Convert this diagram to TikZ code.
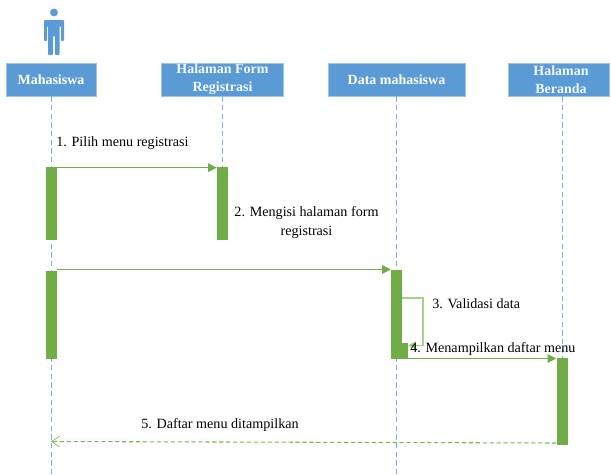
\documentclass[tikz,border=0pt]{standalone}
\usepackage{fontspec}
\setmainfont{Liberation Serif}
\usetikzlibrary{arrows.meta}
\definecolor{hblue}{HTML}{5B9BD5}
\definecolor{hgreen}{HTML}{70AD47}
\definecolor{lgreen}{HTML}{A9D18E}
\tikzset{
  x=0.75pt,y=-0.75pt,
  headbox/.style={fill=hblue,draw=hblue!60!white,line width=0.5pt,minimum height=24.75pt,inner sep=0pt,text=white,font=\fontsize{10.5}{11.5}\selectfont\bfseries,align=center},
  lifeline/.style={draw=hblue!80!white,dashed,dash pattern=on 4pt off 2.5pt,line width=0.7pt},
  actbar/.style={fill=hgreen,draw=none,inner sep=0pt,minimum width=8.25pt,anchor=north},
  msg/.style={draw=hgreen,line width=0.8pt,-{Triangle[length=6.5pt,width=6.5pt,fill=hgreen]}},
  selfmsg/.style={draw=lgreen,line width=0.9pt,-{Triangle[length=6pt,width=6pt,fill=hgreen]}},
  retmsg/.style={draw=hgreen!90!white,line width=0.8pt,dash pattern=on 3.2pt off 2pt,-{Straight Barb[length=6pt,width=8pt,line width=0.5pt]}},
  lbl/.style={inner sep=0pt,font=\fontsize{10.6}{14.2}\selectfont,text=black,align=center}
}
\begin{document}
\begin{tikzpicture}
\useasboundingbox (0,0) rectangle (611,475);
% actor
\fill[hblue] (54,12.5) circle[radius=3.9];
\fill[hblue,rounded corners=0.6pt] (44,20) -- (64,20) -- (64,41) -- (61,41) -- (61,26) -- (59.5,26) -- (59.5,55) -- (55,55) -- (55,36) -- (53,36) -- (53,55) -- (48,55) -- (48,26) -- (47,26) -- (47,41) -- (44,41) -- cycle;
% headers
\node[headbox,minimum width=67.5pt] (mhs) at (51,79.5) {Mahasiswa};
\node[headbox,minimum width=91.5pt] (form) at (222.5,79.5) {};
\node[lbl,font=\fontsize{10.5}{13.5}\selectfont\bfseries,text=white!92!hblue] (formtxt) at (222.5,79.5) {Halaman Form\\Registrasi};
\node[headbox,minimum width=103pt] (data) at (396.5,79.5) {Data mahasiswa};
\node[headbox,minimum width=76pt] (home) at (559,79.5) {};
\node[lbl,font=\fontsize{10.5}{13.5}\selectfont\bfseries,text=white!92!hblue] (hometxt) at (561,79.5) {Halaman\\Beranda};
% lifeline ends
\coordinate (e1) at (51,475);
\coordinate (e2) at (222,240);
\coordinate (e3) at (396,475);
\coordinate (e4) at (562,358);
\draw[lifeline] (mhs.south -| e1) -- (e1);
\draw[lifeline] (form.south -| e2) -- (e2);
\draw[lifeline] (data.south -| e3) -- (e3);
\draw[lifeline] (home.south -| e4) -- (e4);
% activations
\node[actbar,minimum height=54.75pt] (a1) at (51.2,167) {};
\node[actbar,minimum height=54.75pt] (b1) at (222.5,167) {};
\node[actbar,minimum height=66pt] (a2) at (51.2,271) {};
\node[actbar,minimum height=66.75pt] (c1) at (396.5,270) {};
\node[fill=hgreen,inner sep=0pt,minimum width=8.25pt,minimum height=12pt,anchor=north] (c2) at (402,343) {};
\node[actbar,minimum height=65.25pt] (d1) at (562,358) {};
% messages
\draw[msg] (a1.north east) ++(0,0.7) coordinate (m1s) -- (m1s -| b1.west);
\draw[msg] (a2.north east) ++(0,-1.5) coordinate (m2s) -- (m2s -| c1.west);
\coordinate (s1) at (c1.east |- 0,298);
\coordinate (s2) at (423,298);
\coordinate (s3) at (423,345.5);
\draw[selfmsg] (s1) -- (s2) -- (s3) -- (c2.east |- s3);
\draw[msg] (c2.east |- 0,358.5) coordinate (m4a) -- (m4a -| d1.west);
\coordinate (r1) at (d1.west |- 0,443);
\coordinate (r2) at (e1 |- 0,441.5);
\draw[retmsg] (r1) -- (r2);
% labels
\node[lbl,anchor=west] (l1) at (56,143.5) {1. Pilih menu registrasi};
\node[lbl] (l2) at (306.5,222.5) {2. Mengisi halaman form\\registrasi};
\node[lbl,anchor=west] (l3) at (432,303.5) {3. Validasi data};
\node[lbl,anchor=west] (l4) at (410,349) {4. Menampilkan daftar menu};
\node[lbl,anchor=west] (l5) at (141,425) {5. Daftar menu ditampilkan};
\end{tikzpicture}
\end{document}
